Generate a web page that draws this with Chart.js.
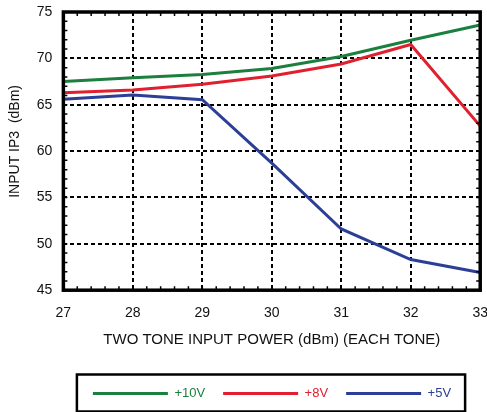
<!DOCTYPE html>
<html>
<head>
<meta charset="utf-8">
<script src="https://cdn.jsdelivr.net/npm/chart.js@4.4.0/dist/chart.umd.min.js"></script>
<style>
html,body{margin:0;padding:0;background:#fff;overflow:hidden;}
#wrap{width:488px;height:412px;position:relative;}
</style>
</head>
<body>
<div id="wrap"><canvas id="c"></canvas></div>
<script>
const inputPower = [27, 28, 29, 30, 31, 32, 33];
const ip3_10V = [67.5, 67.9, 68.25, 68.9, 70.2, 71.95, 73.6];
const ip3_8V  = [66.3, 66.6, 67.2, 68.1, 69.4, 71.5, 62.7];
const ip3_5V  = [65.6, 66.05, 65.55, 58.7, 51.6, 48.3, 46.9];
const seriesNames = ['+10V', '+8V', '+5V'];
const seriesColors = ['#1b7f3e', '#e0202f', '#2c3f97'];
const yTicks = [45, 50, 55, 60, 65, 70, 75];
const xTicks = [27, 28, 29, 30, 31, 32, 33];

const toPts = arr => inputPower.map((x, i) => ({x: x, y: arr[i]}));
const FONT = 'Liberation Sans, Arial, sans-serif';

const frame = {
  id: 'frame',
  afterLayout(chart) {
    const lg = chart.legend;
    if (lg) { lg.left += 26; lg.right += 26; }
  },
  afterDatasetsDraw(chart) {
    const {ctx, chartArea: a, scales} = chart;
    ctx.save();
    ctx.strokeStyle = '#000';
    ctx.lineWidth = 1.5;
    ctx.beginPath();
    for (let v = 27; v <= 33.0001; v += 0.2) {
      const px = scales.x.getPixelForValue(v);
      ctx.moveTo(px, a.bottom); ctx.lineTo(px, a.bottom - 4);
      ctx.moveTo(px, a.top); ctx.lineTo(px, a.top + 4);
    }
    for (let v = 45; v <= 75; v += 1) {
      const py = scales.y.getPixelForValue(v);
      ctx.moveTo(a.left, py); ctx.lineTo(a.left + 4, py);
      ctx.moveTo(a.right, py); ctx.lineTo(a.right - 4, py);
    }
    ctx.stroke();
    ctx.lineWidth = 3.5;
    ctx.strokeRect(a.left, a.top, a.right - a.left, a.bottom - a.top);
    ctx.restore();
  },
  afterDraw(chart) {
    const lg = chart.legend;
    const ctx = chart.ctx;
    if (lg && lg.legendHitBoxes && lg.legendHitBoxes.length) {
      const hb = lg.legendHitBoxes;
      let l = Infinity, r = -Infinity, t = Infinity, b = -Infinity;
      hb.forEach(h => { l = Math.min(l, h.left); r = Math.max(r, h.left + h.width); t = Math.min(t, h.top); b = Math.max(b, h.top + h.height); });
      ctx.save();
      ctx.strokeStyle = '#000';
      ctx.lineWidth = 2.5;
      const cy = (t + b) / 2;
      ctx.strokeRect(l - 16, cy - 19, (r - l) + 30, 37);
      ctx.restore();
    }
  }
};

new Chart(document.getElementById('c'), {
  type: 'line',
  data: {
    datasets: [ip3_10V, ip3_8V, ip3_5V].map((arr, i) => ({
      label: seriesNames[i],
      data: toPts(arr),
      borderColor: seriesColors[i],
      backgroundColor: seriesColors[i],
      borderWidth: 3,
      pointRadius: 0,
      tension: 0,
      fill: false
    }))
  },
  options: {
    responsive: true,
    maintainAspectRatio: false,
    animation: false,
    layout: {padding: {left: 4, right: 0, top: 12, bottom: 2}},
    plugins: {
      tooltip: {enabled: false},
      legend: {
        position: 'bottom',
        align: 'center',
        labels: {
          boxWidth: 75,
          boxHeight: 3,
          padding: 18,
          font: {family: FONT, size: 13},
          generateLabels(chart) {
            return chart.data.datasets.map((ds, i) => ({
              text: ds.label,
              fillStyle: ds.borderColor,
              strokeStyle: ds.borderColor,
              lineWidth: 0,
              fontColor: ds.borderColor,
              hidden: false,
              datasetIndex: i
            }));
          }
        }
      }
    },
    scales: {
      x: {
        type: 'linear',
        min: 27, max: 33,
        afterBuildTicks: s => { s.ticks = xTicks.map(v => ({value: v})); },
        ticks: {color: '#111', font: {family: FONT, size: 14}, padding: 0, maxRotation: 0},
        grid: {color: '#000', lineWidth: 2, drawTicks: true, tickLength: 15, tickColor: 'rgba(0,0,0,0)'},
        border: {display: false, dash: [4, 3]},
        title: {display: true, text: 'TWO TONE INPUT POWER (dBm) (EACH TONE)', color: '#111',
                font: {family: FONT, size: 15}, padding: {top: 9, bottom: 20}}
      },
      y: {
        min: 45, max: 75,
        afterBuildTicks: s => { s.ticks = yTicks.map(v => ({value: v})); },
        ticks: {color: '#111', font: {family: FONT, size: 14}, padding: 0},
        grid: {color: '#000', lineWidth: 2, drawTicks: true, tickLength: 11, tickColor: 'rgba(0,0,0,0)'},
        border: {display: false, dash: [4, 3]},
        title: {display: true, text: '     INPUT IP3  (dBm)', color: '#111',
                font: {family: FONT, size: 14}, padding: {top: 3, bottom: 13}}
      }
    }
  },
  plugins: [frame]
});
</script>
</body>
</html>
